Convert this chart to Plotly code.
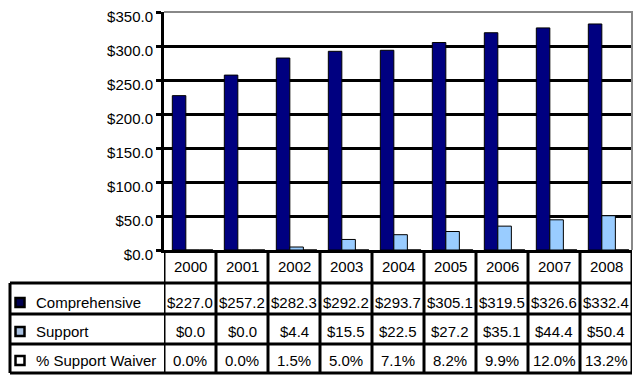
import plotly.graph_objects as go

years = ["2000", "2001", "2002", "2003", "2004", "2005", "2006", "2007", "2008"]
comprehensive = [227.0, 257.2, 282.3, 292.2, 293.7, 305.1, 319.5, 326.6, 332.4]
support = [0.0, 0.0, 4.4, 15.5, 22.5, 27.2, 35.1, 44.4, 50.4]
waiver_pct = [0.0, 0.0, 1.5, 5.0, 7.1, 8.2, 9.9, 12.0, 13.2]
y_ticks = [0, 50, 100, 150, 200, 250, 300, 350]

W, H = 644, 383
OFF = 8  # page body margin
ML, MR, MT, MB = 156, 20, 4, 141
PW, PH = W - ML - MR, H - MT - MB
FONT = "Liberation Sans, Arial, sans-serif"


def px_x(p):
    """page pixel x -> paper"""
    return (p - OFF - ML) / PW


def px_y(p):
    """page pixel y -> paper"""
    return (H - MB - (p - OFF)) / PH


navy = "#000080"
light = "#99CCFF"
BW = 0.26  # bar width in category units

fig = go.Figure()
fig.add_bar(x=years, y=comprehensive, name="Comprehensive", width=BW, offset=-0.34,
            marker=dict(color=navy, line=dict(color="black", width=1)))
fig.add_bar(x=years, y=support, name="Support", width=BW, offset=-0.08,
            marker=dict(color=light, line=dict(color="black", width=1)))
fig.add_bar(x=years, y=[v / 100 for v in waiver_pct], name="% Support Waiver",
            width=BW, offset=0.18,
            marker=dict(color="white", line=dict(color="black", width=1)))

shapes = []
annotations = []

# table vertical lines
for k in range(len(years) + 1):
    shapes.append(dict(type="line", xref="x", yref="paper", x0=k - 0.5, x1=k - 0.5,
                       y0=0, y1=px_y(373), line=dict(color="black", width=3)))
# table horizontal lines
for yy in [283, 314, 344, 373]:
    shapes.append(dict(type="line", xref="paper", yref="paper", x0=px_x(10), x1=1,
                       y0=px_y(yy), y1=px_y(yy), line=dict(color="black", width=3)))
shapes.append(dict(type="line", xref="paper", yref="paper", x0=px_x(10), x1=px_x(10),
                   y0=px_y(283), y1=px_y(373), line=dict(color="black", width=3)))
# gray top/right plot border
shapes.append(dict(type="path", xref="paper", yref="paper",
                   path="M 0 1 L 1 1 L 1 0", line=dict(color="#888888", width=2)))

# year labels
for i, yr in enumerate(years):
    annotations.append(dict(x=i, xref="x", y=px_y(266), yref="paper", text=yr,
                            showarrow=False, yanchor="middle", xanchor="center",
                            font=dict(size=15, color="black", family=FONT)))

rows = [
    ("Comprehensive", ["$%.1f" % v for v in comprehensive], "#000050", 302),
    ("Support", ["$%.1f" % v for v in support], "#A8C0E0", 331),
    ("% Support Waiver", ["%.1f%%" % v for v in waiver_pct], "white", 360),
]
for label, vals, col, cy in rows:
    annotations.append(dict(x=px_x(34), xref="paper", y=px_y(cy), yref="paper", text=label,
                            showarrow=False, xanchor="left", yanchor="middle",
                            font=dict(size=15, color="black", family=FONT)))
    shapes.append(dict(type="rect", xref="paper", yref="paper",
                       x0=px_x(15.5), x1=px_x(24.5), y0=px_y(cy - 4), y1=px_y(cy + 5),
                       fillcolor=col, line=dict(color="black", width=2.5)))
    for i, v in enumerate(vals):
        annotations.append(dict(x=i, xref="x", y=px_y(cy), yref="paper", text=v,
                                showarrow=False, xanchor="center", yanchor="middle",
                                font=dict(size=15, color="black", family=FONT)))

fig.update_layout(
    width=W, height=H, autosize=False,
    margin=dict(l=ML, r=MR, t=MT, b=MB, pad=0, autoexpand=False),
    paper_bgcolor="white", plot_bgcolor="white",
    barmode="overlay",
    showlegend=False,
    font=dict(family=FONT, size=15, color="black"),
    shapes=shapes, annotations=annotations,
    xaxis=dict(type="category", range=[-0.5, 8.5], showticklabels=False, showgrid=False,
               automargin=False,
               showline=True, linecolor="black", linewidth=3, ticks="", zeroline=False),
    yaxis=dict(range=[0, 350], tickvals=y_ticks, ticktext=["$%.1f" % v for v in y_ticks],
               automargin=False, ticklabeloverflow="allow", ticklabelshift=5,
               showgrid=True, gridcolor="black", gridwidth=2.5,
               showline=True, linecolor="black", linewidth=3,
               ticks="outside", ticklen=5, tickwidth=3, tickcolor="black",
               zeroline=False, tickfont=dict(size=15, family=FONT, color="black")),
)

fig.write_html("out.html")
